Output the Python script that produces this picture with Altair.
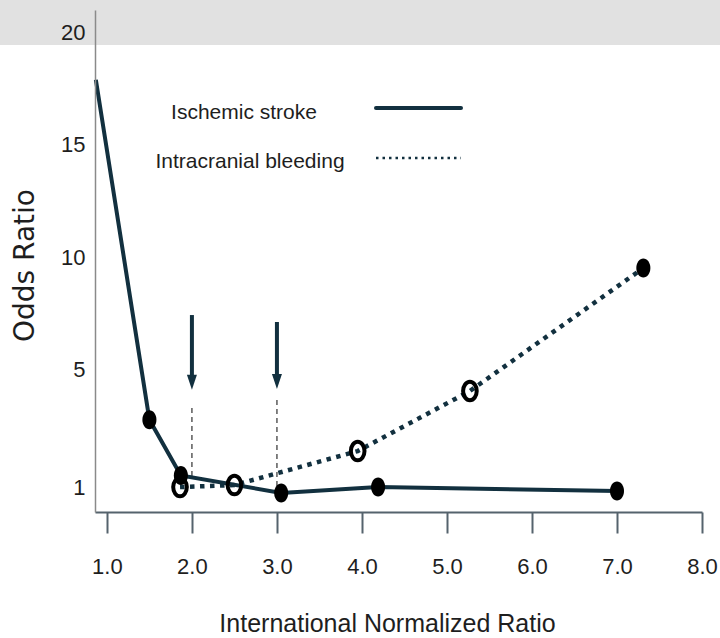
import altair as alt
import pandas as pd

# ---- data ----
ischemic_inr = [0.87, 1.50, 1.87, 3.05, 4.19, 7.00]
ischemic_or = [17.9, 3.3, 1.4, 0.8, 1.0, 0.87]
ischemic_marker = ["none", "filled", "filled", "filled", "filled", "filled"]

bleeding_inr = [1.86, 2.50, 3.95, 5.27, 7.31]
bleeding_or = [1.0, 1.07, 2.23, 4.28, 9.53]
bleeding_marker = ["open", "open", "open", "open", "filled"]

arrow_inr = [2.0, 3.0]
arrow_top = [7.44, 7.13]
arrow_tip = [4.32, 4.35]
guide_top = [3.70, 3.97]
guide_bottom = [1.35, 0.90]

y_ticks = [1, 5, 10, 15, 20]
x_ticks = [1, 2, 3, 4, 5, 6, 7, 8]
legend_labels = ["Ischemic stroke", "Intracranial bleeding"]

# ---- styling ----
W, H = 607, 502
NAVY = "#12303f"
SANS = "Liberation Sans, Arial, sans-serif"
ELLIPSE_FILLED = "M-0.74,0A0.74,1,0,1,0,0.74,0A0.74,1,0,1,0,-0.74,0Z"
ELLIPSE_OPEN = "M-0.74,0A0.74,1,0,1,0,0.74,0A0.74,1,0,1,0,-0.74,0Z"
ARROW_HEAD = "M-1,-3L1,-3L0,0Z"

isc = pd.DataFrame({"inr": ischemic_inr, "or": ischemic_or, "marker": ischemic_marker})
ble = pd.DataFrame({"inr": bleeding_inr, "or": bleeding_or, "marker": bleeding_marker})
arr = pd.DataFrame({"inr": arrow_inr, "top": arrow_top, "tip": arrow_tip,
                    "gtop": guide_top, "gbot": guide_bottom})
arr["shaft_end"] = arr["tip"] + 0.4

xs = alt.Scale(domain=[0.86, 8.0], nice=False, zero=False)
ys = alt.Scale(domain=[0.15, 5, 21], range=[H, H * 0.717, 0], nice=False, zero=False)

xaxis = alt.Axis(values=x_ticks, format=".1f", title="International Normalized Ratio",
                 grid=False, zindex=1, tickSize=21, tickWidth=2, tickColor="#55636d",
                 domainColor="#55636d", domainWidth=2, labelFont=SANS, labelFontSize=22,
                 labelColor="#1e1e1e", labelPadding=23, labelFlush=False,
                 titleFont=SANS, titleFontSize=25, titleFontWeight="normal",
                 titleColor="#1e1e1e", titleX=292, titleY=119, titleBaseline="alphabetic",
                 titleAlign="center")
yaxis = alt.Axis(values=y_ticks, title="Odds Ratio", grid=False, zindex=1, ticks=False,
                 tickSize=0, domainColor="#8a8a8a", domainWidth=1.5, labelFont=SANS,
                 labelFontSize=22, labelColor="#1e1e1e", labelPadding=10, labelFlush=False,
                 labelBaseline="middle",
                 titleFont="DejaVu Sans", titleFontSize=28, titleFontWeight="normal",
                 titleColor="#1e1e1e", titleAngle=270, titleX=-62, titleY=255,
                 titleBaseline="alphabetic", titleAlign="center")

X = lambda f: alt.X(f, type="quantitative", scale=xs, axis=xaxis)
Y = lambda f: alt.Y(f, type="quantitative", scale=ys, axis=yaxis)

one = pd.DataFrame({"d": [0]})

band = alt.Chart(one).mark_rect(color="#e1e1e1").encode(
    x=alt.value(-95), x2=alt.value(625), y=alt.value(-10), y2=alt.value(35))

guides = alt.Chart(arr).mark_rule(color="#5a5a5a", strokeWidth=1.5, strokeDash=[5, 4]).encode(
    x=X("inr"), y=Y("gtop"), y2="gbot")

shafts = alt.Chart(arr).mark_rule(color=NAVY, strokeWidth=4).encode(
    x=X("inr"), y=Y("top"), y2="shaft_end")

heads = alt.Chart(arr).mark_point(shape=ARROW_HEAD, size=100, filled=True, color=NAVY,
                                  opacity=1).encode(x=X("inr"), y=Y("tip"))

ble_line = alt.Chart(ble).mark_line(color=NAVY, strokeWidth=4.5, strokeDash=[4.5, 5.5]).encode(
    x=X("inr"), y=Y("or"))

isc_line = alt.Chart(isc).mark_line(color=NAVY, strokeWidth=4).encode(
    x=X("inr"), y=Y("or"))

open_pts = alt.Chart(ble).transform_filter(alt.datum.marker == "open").mark_point(
    shape=ELLIPSE_OPEN, size=340, filled=False, stroke="black", strokeWidth=4, opacity=1
).encode(x=X("inr"), y=Y("or"))

filled_pts = alt.Chart(pd.concat([isc, ble])).transform_filter(
    alt.datum.marker == "filled").mark_point(
    shape=ELLIPSE_FILLED, size=361, filled=True, color="black", opacity=1
).encode(x=X("inr"), y=Y("or"))

leg_text1 = alt.Chart(one).mark_text(text=legend_labels[0], font=SANS,
                                     fontSize=21, align="center", baseline="alphabetic",
                                     color="#1e1e1e").encode(x=alt.value(149), y=alt.value(109))
leg_text2 = alt.Chart(one).mark_text(text=legend_labels[1], font=SANS,
                                     fontSize=21, align="center", baseline="alphabetic",
                                     color="#1e1e1e").encode(x=alt.value(155), y=alt.value(158))
leg_line1 = alt.Chart(one).mark_rule(color=NAVY, strokeWidth=4, strokeCap="round").encode(
    x=alt.value(281), x2=alt.value(366), y=alt.value(98))
leg_line2 = alt.Chart(one).mark_rule(color=NAVY, strokeWidth=2.5, strokeDash=[2.5, 4]).encode(
    x=alt.value(281), x2=alt.value(366), y=alt.value(148))

chart = alt.layer(
    band, guides, shafts, heads, ble_line, isc_line, open_pts, filled_pts,
    leg_text1, leg_text2, leg_line1, leg_line2
).properties(
    width=W, height=H,
    autosize=alt.AutoSizeParams(type="none"),
    padding={"left": 95, "top": 10, "right": 18, "bottom": 126},
    background="white",
).configure_view(strokeWidth=0)

chart.save("out.html", embed_options={"renderer": "svg", "actions": False})
